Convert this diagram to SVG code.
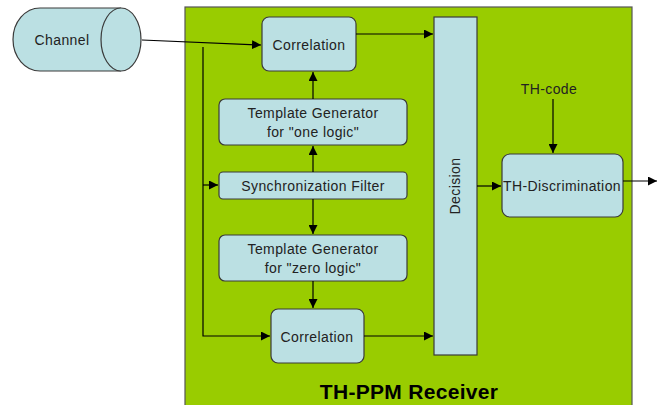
<svg xmlns="http://www.w3.org/2000/svg" width="663" height="405" viewBox="0 0 663 405">
<defs>
<marker id="ah" viewBox="0 0 10 10" refX="10" refY="5" markerWidth="9" markerHeight="9" markerUnits="userSpaceOnUse" orient="auto">
<path d="M0,0 L10,5 L0,10 z" fill="#000"/>
</marker>
<style>
.box{fill:#BBE0E3;stroke:#3a3a3a;stroke-width:1.2}
.t{font-family:"Liberation Sans",Arial,sans-serif;font-size:14px;fill:#222;text-anchor:middle;letter-spacing:0.4px}
.c{fill:none;stroke:#000;stroke-width:1.2}
</style>
</defs>
<rect width="663" height="405" fill="#fff"/>
<g id="receiver">
<rect x="185" y="7" width="447" height="410" fill="#99CC00" stroke="#555" stroke-width="1.2"/>
<text x="409" y="399" font-family="Liberation Sans,Arial,sans-serif" font-weight="bold" font-size="21" letter-spacing="0.3" text-anchor="middle" fill="#000">TH-PPM Receiver</text>
</g>
<g id="channel">
<path class="box" d="M121,8 L40,8 A27,31.5 0 0 0 40,71 L121,71"/>
<ellipse class="box" cx="121" cy="39.5" rx="20" ry="31.5"/>
<text class="t" x="62" y="45">Channel</text>
</g>
<g id="corr1">
<rect class="box" x="262" y="17" width="94" height="54" rx="7"/>
<text class="t" x="309" y="50">Correlation</text>
</g>
<g id="tg1">
<rect class="box" x="219" y="99" width="188" height="46" rx="6"/>
<text class="t" x="313" y="118">Template Generator</text>
<text class="t" x="313" y="137">for "one logic"</text>
</g>
<g id="sync">
<rect class="box" x="219" y="172" width="188" height="27" rx="4"/>
<text class="t" x="313" y="191">Synchronization Filter</text>
</g>
<g id="tg0">
<rect class="box" x="219" y="235" width="188" height="46" rx="6"/>
<text class="t" x="313" y="254">Template Generator</text>
<text class="t" x="313" y="273">for "zero logic"</text>
</g>
<g id="corr0">
<rect class="box" x="271" y="309" width="93" height="54" rx="7"/>
<text class="t" x="317" y="342">Correlation</text>
</g>
<g id="decision">
<rect class="box" x="434" y="17" width="43" height="338"/>
<text class="t" transform="translate(460,186) rotate(-90)">Decision</text>
</g>
<g id="thd">
<rect class="box" x="502" y="154" width="121" height="63" rx="8"/>
<text class="t" x="562" y="191" letter-spacing="0">TH-Discrimination</text>
</g>
<g id="thcode">
<text class="t" x="549" y="94">TH-code</text>
</g>
<g id="connectors">
<path class="c" d="M142,40 L261,45" marker-end="url(#ah)"/>
<path class="c" d="M203,47 L203,336 L270,336" marker-end="url(#ah)"/>
<path class="c" d="M203,185 L218,185" marker-end="url(#ah)"/>
<path class="c" d="M356,34 L433,34" marker-end="url(#ah)"/>
<path class="c" d="M364,336 L433,336" marker-end="url(#ah)"/>
<path class="c" d="M313,99 L313,72" marker-end="url(#ah)"/>
<path class="c" d="M313,172 L313,146" marker-end="url(#ah)"/>
<path class="c" d="M313,199 L313,234" marker-end="url(#ah)"/>
<path class="c" d="M313,281 L313,308" marker-end="url(#ah)"/>
<path class="c" d="M477,186 L501,186" marker-end="url(#ah)"/>
<path class="c" d="M553,99 L553,153" marker-end="url(#ah)"/>
<path class="c" d="M623,181 L657,181" marker-end="url(#ah)"/>
</g>
</svg>
